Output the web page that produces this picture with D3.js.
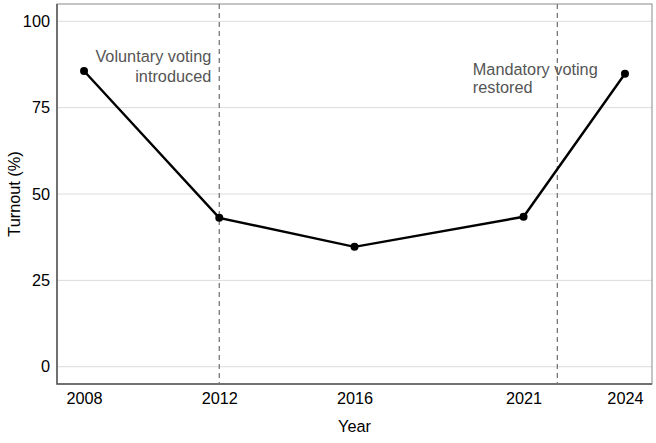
<!DOCTYPE html>
<html>
<head>
<meta charset="utf-8">
<script src="https://cdn.jsdelivr.net/npm/d3@7"></script>
<style>
  body { margin: 0; background: #fff; }
  text { font-family: "Liberation Sans", Arial, sans-serif; }
</style>
</head>
<body>
<div id="chart"></div>
<script>
const years = [2008, 2012, 2016, 2021, 2024];
const turnout = [85.6, 43.1, 34.7, 43.4, 84.8];
const yTicks = [0, 25, 50, 75, 100];
const eventYears = [2012, 2022];
const eventLabels = [["Voluntary voting", "introduced"], ["Mandatory voting", "restored"]];

const width = 656, height = 443;
const margin = { top: 4, right: 4, bottom: 59, left: 57 };
const fs = 16.3;

const svg = d3.select("#chart").append("svg")
  .attr("width", width)
  .attr("height", height);

// ggplot-style 5% expansion
const x = d3.scaleLinear().domain([2007.2, 2024.8]).range([margin.left, width - margin.right]);
const y = d3.scaleLinear().domain([-5, 105]).range([height - margin.bottom, margin.top]);

// grid lines
svg.append("g")
  .selectAll("line")
  .data(yTicks)
  .enter()
  .append("line")
  .attr("x1", margin.left)
  .attr("x2", width - margin.right)
  .attr("y1", d => y(d))
  .attr("y2", d => y(d))
  .attr("stroke", "#dcdcdc")
  .attr("stroke-width", 1);

// panel border
svg.append("rect")
  .attr("x", margin.left)
  .attr("y", margin.top)
  .attr("width", width - margin.left - margin.right)
  .attr("height", height - margin.top - margin.bottom)
  .attr("fill", "none")
  .attr("stroke", "#8a8a8a")
  .attr("stroke-width", 1);

svg.append("path")
  .attr("d", `M${margin.left},${margin.top}V${height - margin.bottom}H${width - margin.right}`)
  .attr("fill", "none")
  .attr("stroke", "#555")
  .attr("stroke-width", 1.5);

// event lines
svg.append("g")
  .selectAll("line")
  .data(eventYears)
  .enter()
  .append("line")
  .attr("x1", d => x(d))
  .attr("x2", d => x(d))
  .attr("y1", margin.top)
  .attr("y2", height - margin.bottom)
  .attr("stroke", "#777")
  .attr("stroke-width", 1.3)
  .attr("stroke-dasharray", "5,4");

// annotations
const ann = svg.append("g").attr("fill", "#555").attr("font-size", fs);
ann.append("text")
  .attr("x", x(eventYears[0]) - 8)
  .attr("y", y(88.2))
  .attr("text-anchor", "end")
  .selectAll("tspan")
  .data(eventLabels[0])
  .enter()
  .append("tspan")
  .attr("x", x(eventYears[0]) - 8)
  .attr("dy", (d, i) => i === 0 ? 0 : 20)
  .text(d => d);

ann.append("text")
  .attr("x", x(2019.5))
  .attr("y", y(84.45))
  .selectAll("tspan")
  .data(eventLabels[1])
  .enter()
  .append("tspan")
  .attr("x", x(2019.5))
  .attr("dy", (d, i) => i === 0 ? 0 : 18.5)
  .text(d => d);

// line
const data = years.map((d, i) => ({ year: d, value: turnout[i] }));
svg.append("path")
  .datum(data)
  .attr("d", d3.line().x(d => x(d.year)).y(d => y(d.value)))
  .attr("fill", "none")
  .attr("stroke", "#000")
  .attr("stroke-width", 2.4);

svg.append("g")
  .selectAll("circle")
  .data(data)
  .enter()
  .append("circle")
  .attr("cx", d => x(d.year))
  .attr("cy", d => y(d.value))
  .attr("r", 4)
  .attr("fill", "#000");

// axes
const yAxis = svg.append("g")
  .attr("transform", `translate(${margin.left},0)`)
  .call(d3.axisLeft(y).tickValues(yTicks).tickSize(0).tickPadding(7));
yAxis.select(".domain").remove();
yAxis.selectAll("text").attr("font-size", fs).attr("fill", "#000").attr("font-family", "Liberation Sans, Arial, sans-serif");

const xAxis = svg.append("g")
  .attr("transform", `translate(0,${height - margin.bottom})`)
  .call(d3.axisBottom(x).tickValues(years).tickFormat(d3.format("d")).tickSize(0).tickPadding(8));
xAxis.select(".domain").remove();
xAxis.selectAll("text").attr("font-size", fs).attr("fill", "#000").attr("font-family", "Liberation Sans, Arial, sans-serif");

svg.append("text")
  .attr("x", (margin.left + width - margin.right) / 2)
  .attr("y", 432)
  .attr("text-anchor", "middle")
  .attr("font-size", fs)
  .text("Year");

svg.append("text")
  .attr("transform", `translate(20,${(margin.top + height - margin.bottom) / 2}) rotate(-90)`)
  .attr("text-anchor", "middle")
  .attr("font-size", fs)
  .text("Turnout (%)");
</script>
</body>
</html>
